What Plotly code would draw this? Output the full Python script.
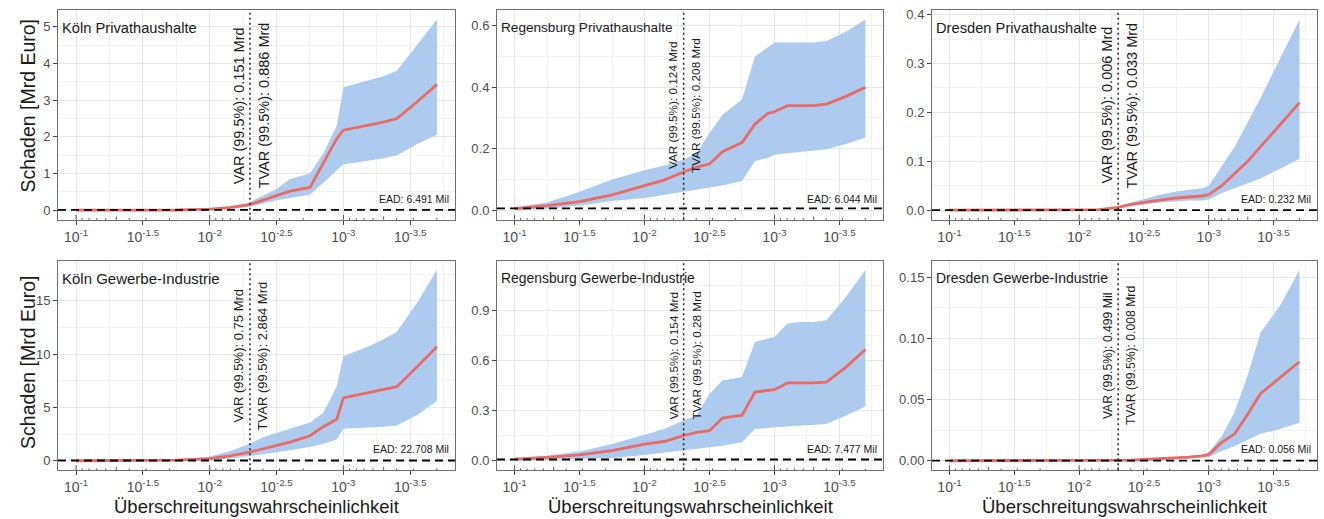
import math
import plotly.graph_objects as go

# ---------------- data ----------------
# exponent of the exceedance probability (10^x)
LOG_P = [-1.0, -1.25, -1.5, -1.75, -2.0, -2.15, -2.3, -2.4, -2.5, -2.6,
         -2.75, -2.85, -2.95, -3.0, -3.1, -3.2, -3.3, -3.4, -3.55, -3.7]

PANEL_TITLES = ["Köln Privathaushalte", "Regensburg Privathaushalte", "Dresden Privathaushalte",
                "Köln Gewerbe-Industrie", "Regensburg Gewerbe-Industrie", "Dresden Gewerbe-Industrie"]

koeln_priv_med = [0.0, 0.0, 0.0, 0.005, 0.03, 0.07, 0.151, 0.28, 0.40, 0.52,
                  0.62, 1.30, 1.95, 2.18, 2.25, 2.32, 2.40, 2.50, 2.95, 3.43]
koeln_priv_lo = [0.0, 0.0, 0.0, 0.0, 0.01, 0.03, 0.10, 0.18, 0.27, 0.33,
                 0.42, 0.75, 1.10, 1.25, 1.30, 1.35, 1.42, 1.50, 1.80, 2.06]
koeln_priv_hi = [0.0, 0.0, 0.005, 0.01, 0.05, 0.10, 0.22, 0.40, 0.58, 0.85,
                 1.00, 1.55, 2.30, 3.35, 3.45, 3.55, 3.65, 3.80, 4.50, 5.20]

regb_priv_med = [0.005, 0.015, 0.028, 0.05, 0.08, 0.098, 0.124, 0.14, 0.15, 0.19,
                 0.22, 0.28, 0.315, 0.32, 0.34, 0.34, 0.34, 0.345, 0.37, 0.40]
regb_priv_lo = [0.0, 0.005, 0.015, 0.03, 0.04, 0.05, 0.06, 0.066, 0.073, 0.08,
                0.095, 0.16, 0.17, 0.18, 0.185, 0.19, 0.195, 0.198, 0.215, 0.236]
regb_priv_hi = [0.01, 0.025, 0.06, 0.10, 0.13, 0.145, 0.165, 0.185, 0.25, 0.31,
                0.36, 0.50, 0.53, 0.545, 0.545, 0.545, 0.545, 0.55, 0.58, 0.62]

dres_priv_med = [0.0, 0.0, 0.0, 0.0, 0.0, 0.001, 0.006, 0.012, 0.016, 0.02,
                 0.025, 0.027, 0.029, 0.032, 0.05, 0.075, 0.10, 0.13, 0.175, 0.22]
dres_priv_lo = [0.0, 0.0, 0.0, 0.0, 0.0, 0.0, 0.004, 0.008, 0.012, 0.015,
                0.018, 0.02, 0.02, 0.022, 0.035, 0.045, 0.055, 0.065, 0.085, 0.105]
dres_priv_hi = [0.0, 0.0, 0.0, 0.0, 0.0, 0.002, 0.008, 0.015, 0.022, 0.03,
                0.038, 0.042, 0.045, 0.05, 0.09, 0.13, 0.18, 0.23, 0.31, 0.39]

koeln_gew_med = [0.0, 0.0, 0.0, 0.05, 0.2, 0.45, 0.8, 1.1, 1.4, 1.75,
                 2.35, 3.2, 3.9, 5.9, 6.15, 6.4, 6.65, 6.95, 8.8, 10.7]
koeln_gew_lo = [0.0, 0.0, 0.0, 0.0, 0.05, 0.2, 0.4, 0.6, 0.8, 1.0,
                1.3, 1.6, 2.0, 3.0, 3.05, 3.1, 3.2, 3.3, 4.3, 5.6]
koeln_gew_hi = [0.0, 0.0, 0.02, 0.1, 0.4, 0.9, 1.6, 2.2, 2.6, 3.0,
                3.6, 4.5, 7.0, 9.8, 10.3, 10.8, 11.4, 12.1, 14.8, 17.9]

regb_gew_med = [0.01, 0.02, 0.035, 0.06, 0.10, 0.115, 0.15, 0.17, 0.18, 0.255,
                0.272, 0.41, 0.42, 0.425, 0.465, 0.465, 0.465, 0.47, 0.56, 0.665]
regb_gew_lo = [0.0, 0.005, 0.01, 0.017, 0.034, 0.048, 0.06, 0.07, 0.077, 0.09,
               0.11, 0.19, 0.195, 0.2, 0.205, 0.21, 0.213, 0.22, 0.27, 0.325]
regb_gew_hi = [0.015, 0.03, 0.055, 0.1, 0.155, 0.19, 0.24, 0.27, 0.40, 0.48,
               0.50, 0.71, 0.73, 0.74, 0.82, 0.83, 0.83, 0.84, 0.98, 1.14]

dres_gew_med = [0.0, 0.0, 0.0, 0.0, 0.0, 0.0, 0.0, 0.0005, 0.001, 0.0015,
                0.002, 0.003, 0.004, 0.005, 0.015, 0.022, 0.038, 0.055, 0.068, 0.081]
dres_gew_lo = [0.0, 0.0, 0.0, 0.0, 0.0, 0.0, 0.0, 0.0, 0.0005, 0.001,
               0.0015, 0.002, 0.003, 0.003, 0.008, 0.012, 0.017, 0.022, 0.026, 0.031]
dres_gew_hi = [0.0, 0.0, 0.0, 0.0, 0.0, 0.0, 0.0, 0.001, 0.0015, 0.002,
               0.003, 0.004, 0.005, 0.007, 0.02, 0.04, 0.07, 0.105, 0.127, 0.156]

VAR_LABELS = ["VAR (99.5%): 0.151 Mrd", "VAR (99.5%): 0.124 Mrd", "VAR (99.5%): 0.006 Mrd",
              "VAR (99.5%): 0.75 Mrd", "VAR (99.5%): 0.154 Mrd", "VAR (99.5%): 0.499 Mil"]
TVAR_LABELS = ["TVAR (99.5%): 0.886 Mrd", "TVAR (99.5%): 0.208 Mrd", "TVAR (99.5%): 0.033 Mrd",
               "TVAR (99.5%): 2.864 Mrd", "TVAR (99.5%): 0.28 Mrd", "TVAR (99.5%): 0.008 Mrd"]
EAD_MIL = [6.491, 6.044, 0.232, 22.708, 7.477, 0.056]
VAR_LEVEL = 0.995

X_TICK_EXP = [-1, -1.5, -2, -2.5, -3, -3.5]
Y_TICKS = [[0, 1, 2, 3, 4, 5], [0.0, 0.2, 0.4, 0.6], [0.0, 0.1, 0.2, 0.3, 0.4],
           [0, 5, 10, 15], [0.0, 0.3, 0.6, 0.9, 1.2], [0.0, 0.05, 0.10, 0.15]]
Y_TICKTEXT = [["0", "1", "2", "3", "4", "5"], ["0.0", "0.2", "0.4", "0.6"],
              ["0.0", "0.1", "0.2", "0.3", "0.4"], ["0", "5", "10", "15"],
              ["0.0", "0.3", "0.6", "0.9", "1.2"], ["0.00", "0.05", "0.10", "0.15"]]

MED = [koeln_priv_med, regb_priv_med, dres_priv_med, koeln_gew_med, regb_gew_med, dres_gew_med]
LO = [koeln_priv_lo, regb_priv_lo, dres_priv_lo, koeln_gew_lo, regb_gew_lo, dres_gew_lo]
HI = [koeln_priv_hi, regb_priv_hi, dres_priv_hi, koeln_gew_hi, regb_gew_hi, dres_gew_hi]

# ---------------- style / layout ----------------
W, H = 1324, 519
FONT = "Liberation Sans, Arial, sans-serif"
RIBBON = "rgb(172,203,238)"
LINE = "#EC6A64"
GRID = "#e6e6e6"
GRID_MINOR = "#f1f1f1"
BORDER = "#6e6e6e"
TICKC = "#444444"

XDOM_PX = [(58, 455), (497, 883), (932, 1317)]
YDOM_PX = [(7, 218), (259, 470)]
VAR_FS = [14.5, 11.8, 14.5, 13.0, 11.8, 12.2]
TITLE_FS = [14.7, 13.6, 14.7, 15.0, 13.9, 14.0]

x_lo, x_hi = min(LOG_P), max(LOG_P)
x_pad = 0.05 * (x_hi - x_lo)
X_RANGE = [x_hi + x_pad, x_lo - x_pad]  # reversed


def y_range(hi_vals):
    top = max(hi_vals)
    pad = 0.05 * top
    return [-pad, top + pad]


x_minor = [e - 0.25 for e in X_TICK_EXP]
# log ticks (annotation_logticks style) positions
logticks = []
for dec in range(1, 5):
    for m in range(1, 10):
        v = math.log10(m) - dec
        if X_RANGE[1] <= v <= X_RANGE[0]:
            kind = 0 if m == 1 else (1 if m == 5 else 2)
            logticks.append((v, kind))
LT_LEN = [5.0, 3.2, 1.8]

var_x = math.log10(1 - VAR_LEVEL)

fig = go.Figure()
layout = dict(width=W, height=H, margin=dict(l=0, r=0, t=0, b=0),
              paper_bgcolor="white", plot_bgcolor="white", showlegend=False,
              font=dict(family=FONT, color="#222"))
shapes, annotations = [], []

for i in range(6):
    r, c = divmod(i, 3)
    sfx = "" if i == 0 else str(i + 1)
    xa, ya = "x" + sfx, "y" + sfx
    x0p, x1p = XDOM_PX[c]
    y0p, y1p = YDOM_PX[r]
    box_h = y1p - y0p

    fig.add_trace(go.Scatter(x=LOG_P, y=LO[i], xaxis=xa, yaxis=ya, mode="lines",
                             line=dict(width=0, color=RIBBON), hoverinfo="skip"))
    fig.add_trace(go.Scatter(x=LOG_P, y=HI[i], xaxis=xa, yaxis=ya, mode="lines",
                             line=dict(width=0, color=RIBBON), fill="tonexty",
                             fillcolor=RIBBON, hoverinfo="skip"))
    fig.add_trace(go.Scatter(x=LOG_P, y=MED[i], xaxis=xa, yaxis=ya, mode="lines",
                             line=dict(width=2.8, color=LINE)))

    yt = Y_TICKS[i]
    step = yt[1] - yt[0]
    yr = y_range(HI[i])
    y_minor = [v + step / 2 for v in [yt[0] - step] + yt]

    layout["xaxis" + sfx] = dict(
        domain=[x0p / W, x1p / W], anchor=ya, range=X_RANGE,
        tickmode="array", tickvals=X_TICK_EXP,
        ticktext=["10<sup>%g</sup>" % e for e in X_TICK_EXP],
        ticks="outside", ticklen=4, tickwidth=1, tickcolor=TICKC,
        tickfont=dict(size=14, color="#4d4d4d", family=FONT),
        showline=True, mirror=True, linecolor=BORDER, linewidth=1,
        showgrid=True, gridcolor=GRID, gridwidth=1, zeroline=False,
        minor=dict(tickmode="array", tickvals=x_minor, showgrid=True,
                   gridcolor=GRID_MINOR, gridwidth=0.6, ticks=""),
    )
    layout["yaxis" + sfx] = dict(
        domain=[1 - y1p / H, 1 - y0p / H], anchor=xa, range=yr,
        tickmode="array", tickvals=yt, ticktext=Y_TICKTEXT[i],
        ticks="outside", ticklen=4, tickwidth=1, tickcolor=TICKC,
        tickfont=dict(size=13, color="#4d4d4d", family=FONT),
        showline=True, mirror=True, linecolor=BORDER, linewidth=1,
        showgrid=True, gridcolor=GRID, gridwidth=1, zeroline=False,
        minor=dict(tickmode="array", tickvals=y_minor, showgrid=True,
                   gridcolor=GRID_MINOR, gridwidth=0.6, ticks=""),
    )

    # log ticks along bottom, inside
    for v, kind in logticks:
        shapes.append(dict(type="line", xref=xa, yref=ya + " domain",
                           x0=v, x1=v, y0=0, y1=LT_LEN[kind] / box_h,
                           line=dict(color="#555", width=1)))
    # EAD dashed line
    ead = EAD_MIL[i] / 1000.0
    shapes.append(dict(type="line", xref=xa + " domain", yref=ya, x0=0, x1=1,
                       y0=ead, y1=ead, line=dict(color="black", width=1.8, dash="8px,5px")))
    # VAR dotted line
    shapes.append(dict(type="line", xref=xa, yref=ya + " domain", x0=var_x, x1=var_x,
                       y0=0, y1=1, line=dict(color="#222", width=1.5, dash="2px,3px")))

    annotations.append(dict(text=PANEL_TITLES[i], xref=xa + " domain", yref=ya + " domain",
                            x=0, y=0.915, xanchor="left", yanchor="middle", xshift=2,
                            showarrow=False,
                            font=dict(size=TITLE_FS[i], color="#1a1a1a", family=FONT)))
    annotations.append(dict(text=VAR_LABELS[i], xref=xa, yref=ya + " domain",
                            x=var_x, y=0.545, xanchor="right", yanchor="middle", xshift=-1,
                            textangle=-90, showarrow=False,
                            font=dict(size=VAR_FS[i], color="#1a1a1a", family=FONT)))
    annotations.append(dict(text=TVAR_LABELS[i], xref=xa, yref=ya + " domain",
                            x=var_x, y=0.545, xanchor="left", yanchor="middle", xshift=4,
                            textangle=-90, showarrow=False,
                            font=dict(size=VAR_FS[i], color="#1a1a1a", family=FONT)))
    annotations.append(dict(text="EAD: %g Mil" % EAD_MIL[i], xref=xa + " domain",
                            yref=ya + " domain", x=1, y=0.1, xanchor="right",
                            yanchor="middle", xshift=-4, showarrow=False,
                            font=dict(size=10.5, color="#1a1a1a", family=FONT)))

# axis titles
for yc in (104, 362):
    annotations.append(dict(text="Schaden [Mrd Euro]", xref="paper", yref="paper",
                            x=28 / W, y=1 - yc / H, textangle=-90, showarrow=False,
                            xanchor="center", yanchor="middle",
                            font=dict(size=19.5, color="#1a1a1a", family=FONT)))
for x0p, x1p in XDOM_PX:
    annotations.append(dict(text="Überschreitungswahrscheinlichkeit", xref="paper", yref="paper",
                            x=(x0p + x1p) / 2 / W, y=0, showarrow=False,
                            xanchor="center", yanchor="bottom",
                            font=dict(size=18.5, color="#1a1a1a", family=FONT)))

layout["shapes"] = shapes
layout["annotations"] = annotations
fig.update_layout(**layout)
fig.write_html("out.html")
